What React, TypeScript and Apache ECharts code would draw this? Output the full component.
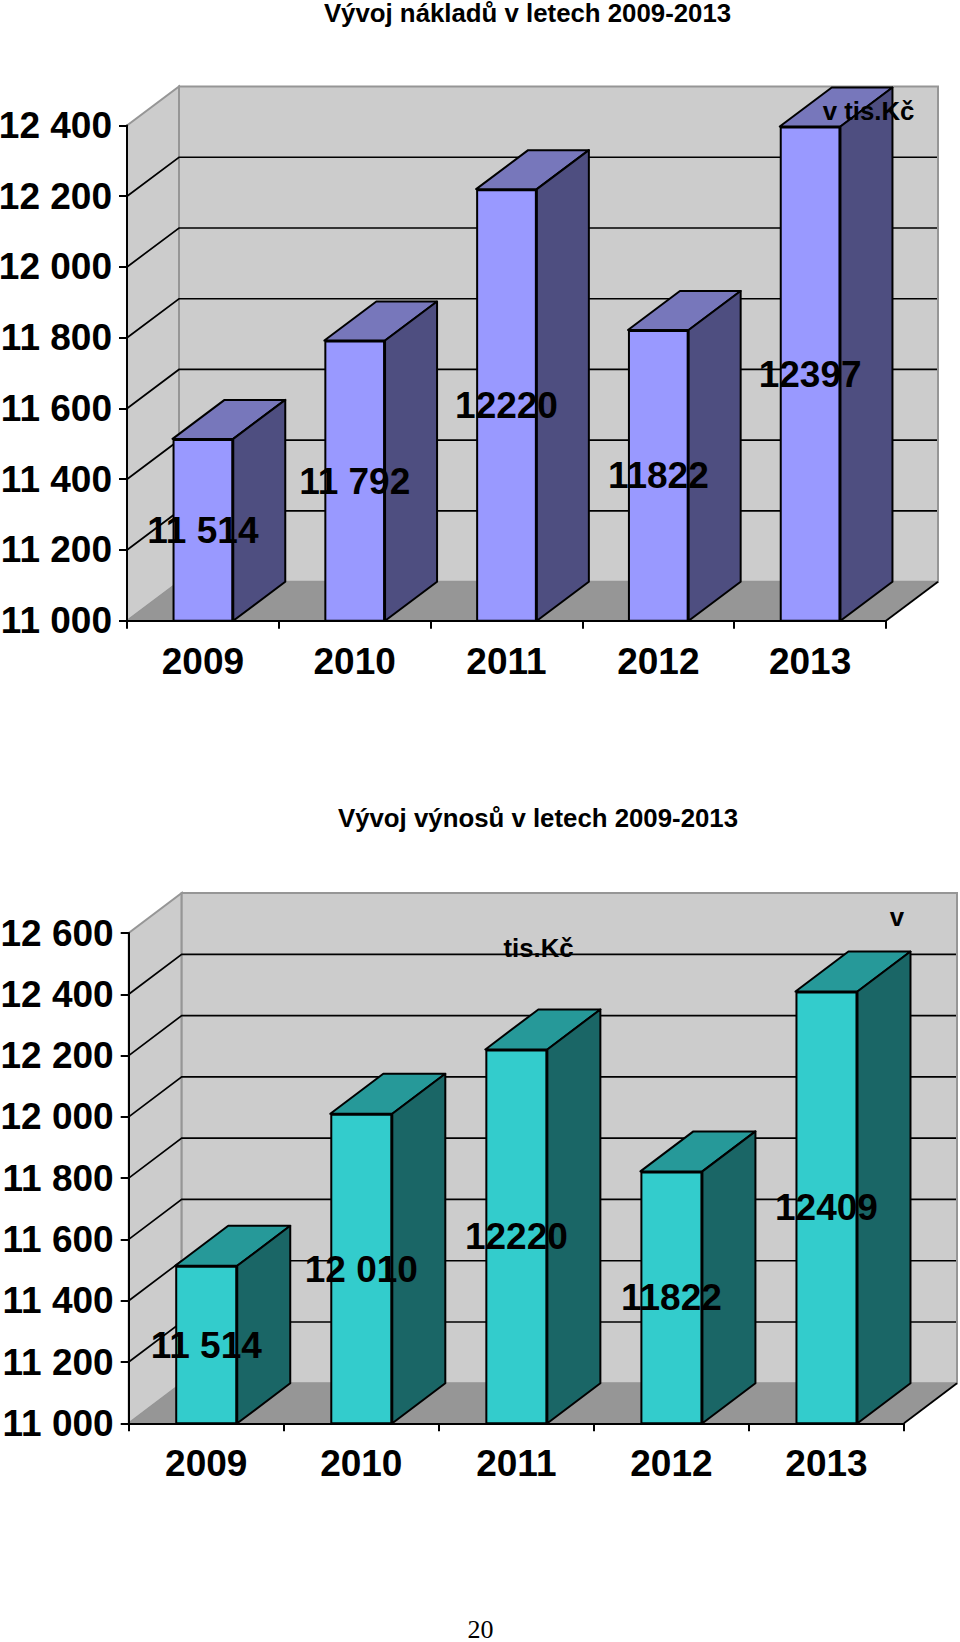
import React, { useEffect, useRef } from "react";
import * as echarts from "echarts";

const categories = ["2009", "2010", "2011", "2012", "2013"];

const costTitle = "Vývoj nákladů v letech 2009-2013";
const costValues = [11514, 11792, 12220, 11822, 12397];
const costLabels = ["11 514", "11 792", "12220", "11822", "12397"];
const costTicks = [11000, 11200, 11400, 11600, 11800, 12000, 12200, 12400];

const revenueTitle = "Vývoj výnosů v letech 2009-2013";
const revenueValues = [11514, 12010, 12220, 11822, 12409];
const revenueLabels = ["11 514", "12 010", "12220", "11822", "12409"];
const revenueTicks = [11000, 11200, 11400, 11600, 11800, 12000, 12200, 12400, 12600];

const FONT = "'Liberation Sans', Arial, sans-serif";
const BIG = 37;
const SMALL = 25.8;
const BLACK = "#000000";

const fmt = (v: number) => {
  const s = String(v);
  return s.slice(0, 2) + " " + s.slice(2);
};

type Panel = {
  grid: number;
  left: number;
  top: number;
  width: number;
  height: number;
  dx: number;
  dy: number;
  values: number[];
  labels: string[];
  ticks: number[];
  front: string;
  topFace: string;
  side: string;
};

const panels: Panel[] = [
  {
    grid: 0, left: 127, top: 125.5, width: 759, height: 495.2, dx: 52, dy: 39,
    values: costValues, labels: costLabels, ticks: costTicks,
    front: "#9999FF", topFace: "#7777BB", side: "#4E4E80",
  },
  {
    grid: 1, left: 128.7, top: 933, width: 775.3, height: 490.3, dx: 53, dy: 40,
    values: revenueValues, labels: revenueLabels, ticks: revenueTicks,
    front: "#33CCCC", topFace: "#269999", side: "#1A6666",
  },
];

function buildSeries(p: Panel) {
  const min = p.ticks[0];
  const shared = { xAxisIndex: p.grid, yAxisIndex: p.grid, silent: true };
  const walls = {
    ...shared,
    type: "custom",
    z: 1,
    encode: { x: 0, y: 1 },
    data: [[0, min]],
    renderItem: (params: any) => {
      const c = params.coordSys;
      const x0 = c.x, x1 = c.x + c.width, y0 = c.y, y1 = c.y + c.height;
      const { dx, dy } = p;
      const wallGray = "#CCCCCC";
      const edge = "#969696";
      return {
        type: "group",
        children: [
          { type: "polygon", shape: { points: [[x0, y1], [x0 + dx, y1 - dy], [x0 + dx, y0 - dy], [x0, y0]] }, style: { fill: wallGray, stroke: edge, lineWidth: 2 } },
          { type: "rect", shape: { x: x0 + dx, y: y0 - dy, width: x1 - x0, height: y1 - y0 }, style: { fill: wallGray, stroke: edge, lineWidth: 2 } },
          { type: "polygon", shape: { points: [[x0, y1], [x1, y1], [x1 + dx, y1 - dy], [x0 + dx, y1 - dy]] }, style: { fill: edge, stroke: edge, lineWidth: 1 } },
          { type: "line", shape: { x1, y1, x2: x1 + dx, y2: y1 - dy }, style: { stroke: BLACK, lineWidth: 1.8 } },
        ],
      };
    },
  };
  const grids = {
    ...shared,
    type: "custom",
    z: 2,
    encode: { x: 0, y: 1 },
    data: p.ticks.slice(1, -1).map((t) => [0, t]),
    renderItem: (params: any, api: any) => {
      const c = params.coordSys;
      const y = api.coord([0, api.value(1)])[1];
      const { dx, dy } = p;
      return {
        type: "polyline",
        shape: { points: [[c.x, y], [c.x + dx, y - dy], [c.x + c.width + dx - 1, y - dy]] },
        style: { fill: "none", stroke: BLACK, lineWidth: 1.7 },
      };
    },
  };
  const depth = {
    ...shared,
    type: "custom",
    z: 3,
    encode: { x: 0, y: 1 },
    data: p.values.map((v, i) => [i, v]),
    renderItem: (_params: any, api: any) => {
      const i = api.value(0);
      const [cx, yTop] = api.coord([i, api.value(1)]);
      const yBase = api.coord([i, min])[1];
      const w = api.size([1, 0])[0] * 0.4;
      const l = cx - w / 2, r = cx + w / 2;
      const { dx, dy } = p;
      const line = { stroke: BLACK, lineWidth: 2, lineJoin: "round" };
      return {
        type: "group",
        children: [
          { type: "polygon", shape: { points: [[l, yTop], [r, yTop], [r + dx, yTop - dy], [l + dx, yTop - dy]] }, style: { fill: p.topFace, ...line } },
          { type: "polygon", shape: { points: [[r, yTop], [r + dx, yTop - dy], [r + dx, yBase - dy], [r, yBase]] }, style: { fill: p.side, ...line } },
        ],
      };
    },
  };
  const bars = {
    ...shared,
    type: "bar",
    z: 4,
    barWidth: "40%",
    data: p.values,
    itemStyle: { color: p.front, borderColor: BLACK, borderWidth: 2 },
    label: {
      show: true,
      position: "inside",
      color: BLACK,
      fontFamily: FONT,
      fontWeight: "bold",
      fontSize: BIG,
      formatter: (o: any) => p.labels[o.dataIndex],
    },
  };
  return [walls, grids, depth, bars];
}

const freeText = (text: string, x: number, y: number, fontSize: number, family = FONT, weight = "bold") => ({
  type: "text",
  x,
  y,
  z: 50,
  style: { text, fill: BLACK, font: `${weight} ${fontSize}px ${family}`, textAlign: "center", textVerticalAlign: "middle" },
});

const option = {
  animation: false,
  backgroundColor: "#FFFFFF",
  grid: panels.map((p) => ({ left: p.left, top: p.top, width: p.width, height: p.height, containLabel: false, outerBoundsMode: "none" })),
  xAxis: panels.map((p) => ({
    gridIndex: p.grid,
    type: "category",
    data: categories,
    z: 6,
    axisLine: { show: true, onZero: false, lineStyle: { color: BLACK, width: 2 } },
    axisTick: { show: true, length: 8, alignWithLabel: false, lineStyle: { color: BLACK, width: 2 } },
    axisLabel: { show: true, interval: 0, margin: 22, color: BLACK, fontFamily: FONT, fontWeight: "bold", fontSize: BIG },
    splitLine: { show: false },
  })),
  yAxis: panels.map((p) => ({
    gridIndex: p.grid,
    type: "value",
    min: p.ticks[0],
    max: p.ticks[p.ticks.length - 1],
    interval: 200,
    z: 6,
    axisLine: { show: true, lineStyle: { color: BLACK, width: 2 } },
    axisTick: { show: true, length: 8, lineStyle: { color: BLACK, width: 2 } },
    axisLabel: { show: true, margin: 15, color: BLACK, fontFamily: FONT, fontWeight: "bold", fontSize: BIG, formatter: fmt },
    splitLine: { show: false },
  })),
  series: panels.flatMap(buildSeries),
  graphic: [
    freeText(costTitle, 527.5, 13, SMALL),
    freeText(revenueTitle, 538, 818, SMALL),
    freeText("v tis.Kč", 868.5, 111, SMALL),
    freeText("tis.Kč", 538.5, 948, SMALL),
    freeText("v", 897, 917, SMALL),
    freeText("20", 480.5, 1629, 26, "'Liberation Serif', 'Times New Roman', serif", "normal"),
  ],
};

export default function App() {
  const ref = useRef<HTMLDivElement>(null);
  useEffect(() => {
    const chart = echarts.init(ref.current!, undefined, { renderer: "svg" });
    chart.setOption(option as any);
    return () => chart.dispose();
  }, []);
  return <div ref={ref} style={{ position: "absolute", left: 0, top: 0, width: 960, height: 1642 }} />;
}
